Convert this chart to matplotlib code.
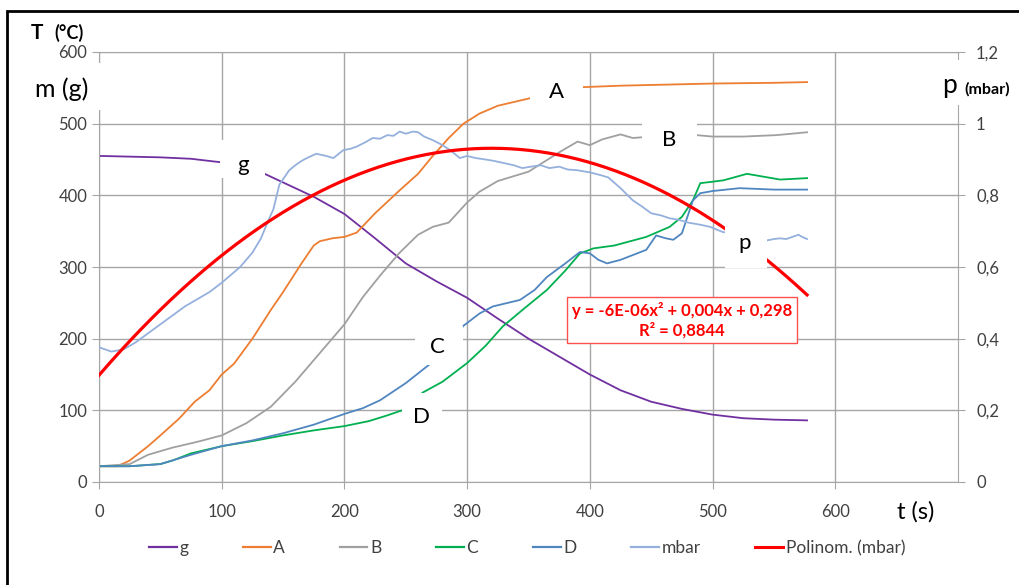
import numpy as np
import matplotlib
matplotlib.use("Agg")
import matplotlib.pyplot as plt
from matplotlib.patches import Rectangle
from matplotlib.lines import Line2D

plt.rcParams["font.family"] = ["Lato", "DejaVu Sans"]

# mass loss g (left axis)
t_g = [0, 25, 50, 75, 100, 120, 135, 150, 175, 200, 225, 250, 275, 300,
       325, 350, 375, 400, 425, 450, 475, 500, 525, 550, 577]
g = [455, 454, 453, 451, 446, 440, 430, 418, 398, 374, 340, 305, 280, 257,
     228, 200, 175, 150, 128, 112, 102, 94, 89, 87, 86]

# thermocouple A..D (left axis, degC)
t_A = [0, 15, 25, 40, 50, 65, 78, 90, 100, 110, 125, 140, 150, 165, 175, 180,
       190, 200, 210, 225, 245, 260, 272, 285, 297, 310, 325, 340, 350, 360,
       380, 395, 425, 450, 500, 550, 577]
A = [22, 22, 30, 50, 65, 88, 112, 128, 150, 165, 200, 240, 265, 305, 330, 336,
     340, 342, 348, 375, 407, 430, 455, 480, 500, 514, 525, 531, 535, 540,
     547, 551, 553, 554, 556, 557, 558]

t_B = [0, 25, 40, 60, 80, 100, 120, 140, 160, 175, 185, 200, 215, 230, 245,
       260, 272, 285, 300, 310, 325, 350, 375, 390, 400, 410, 425, 435, 450,
       465, 487, 500, 525, 552, 577]
B = [22, 25, 38, 48, 56, 65, 82, 105, 140, 170, 190, 220, 258, 290, 320,
     345, 356, 362, 390, 405, 420, 433, 460, 475, 470, 478, 485, 480, 482,
     483, 484, 482, 482, 484, 488]

t_C = [0, 25, 50, 60, 75, 100, 125, 150, 175, 200, 220, 235, 247, 255, 264,
       280, 300, 315, 329, 345, 365, 380, 392, 403, 420, 446, 465, 475, 484,
       490, 500, 509, 528, 545, 555, 577]
C = [22, 22, 25, 30, 40, 50, 57, 65, 72, 78, 85, 93, 100, 112, 125,
     140, 166, 190, 217, 240, 268, 295, 319, 326, 330, 342, 356, 370, 393,
     417, 419, 421, 430, 425, 422, 424]

t_D = [0, 25, 50, 75, 100, 125, 150, 175, 200, 215, 229, 250, 270, 285, 297,
       310, 321, 343, 355, 365, 380, 392, 400, 407, 414, 425, 446, 454, 462,
       468, 475, 484, 490, 500, 522, 550, 577]
D = [22, 22, 25, 38, 50, 58, 68, 80, 95, 103, 114, 138, 165, 190, 218,
     235, 245, 254, 268, 286, 305, 321, 319, 310, 305, 310, 324, 344, 340,
     338, 347, 393, 403, 406, 410, 408, 408]

# pressure (right axis, mbar)
t_p = [0, 5, 10, 20, 30, 50, 70, 90, 100, 115, 125, 132, 138, 142, 147, 155,
       160, 165, 170, 177, 185, 191, 199, 205, 210, 217, 223, 229, 235, 240,
       245, 250, 256, 260, 265, 272, 280, 287, 294, 300, 307, 315, 322, 330,
       338, 345, 352, 360, 367, 375, 382, 390, 400, 407, 415, 425, 435, 442,
       450, 458, 465, 472, 480, 490, 498, 508, 520, 535, 544, 550, 555, 560,
       565, 570, 573, 577]
p = [0.376, 0.370, 0.364, 0.370, 0.390, 0.440, 0.490, 0.530, 0.556, 0.600,
     0.640, 0.680, 0.730, 0.760, 0.830, 0.870, 0.884, 0.896, 0.905, 0.916,
     0.910, 0.904, 0.926, 0.930, 0.936, 0.948, 0.960, 0.958, 0.968, 0.966,
     0.978, 0.972, 0.978, 0.976, 0.964, 0.954, 0.940, 0.924, 0.904, 0.910,
     0.904, 0.900, 0.896, 0.890, 0.884, 0.876, 0.880, 0.884, 0.876, 0.880,
     0.872, 0.870, 0.864, 0.858, 0.850, 0.820, 0.786, 0.770, 0.750, 0.744,
     0.736, 0.732, 0.724, 0.718, 0.712, 0.698, 0.690, 0.680, 0.674, 0.678,
     0.680, 0.678, 0.684, 0.690, 0.684, 0.678]

# quadratic trend of p(t)
poly = [-6.19e-6, 0.00396, 0.298]
r2 = 0.8844

x_ticks = [0, 100, 200, 300, 400, 500, 600]
y_ticks = [0, 100, 200, 300, 400, 500, 600]
p_ticks = [0, 0.2, 0.4, 0.6, 0.8, 1.0, 1.2]

GRID = "#A6A6A6"
TXT = "#404040"

fig = plt.figure(figsize=(10.2, 5.85), dpi=100)
ax = fig.add_axes([99 / 1020, 1 - 482 / 585, 859 / 1020, 430 / 585])
ax2 = ax.twinx()

ax.plot(t_g, g, color="#7030A0", lw=1.3, label="g")
ax.plot(t_A, A, color="#ED7D31", lw=1.3, label="A")
ax.plot(t_B, B, color="#A0A0A0", lw=1.3, label="B")
ax.plot(t_C, C, color="#00B050", lw=1.3, label="C")
ax.plot(t_D, D, color="#4F86C0", lw=1.3, label="D")

ax2.plot(t_p, p, color="#95B0DD", lw=1.3, label="mbar")
tt = np.linspace(0, 577, 300)
ax2.plot(tt, np.polyval(poly, tt), color="#FF0000", lw=2.3, label="Polinom. (mbar)")

ax.set_xlim(0, 700)
ax.set_ylim(0, 600)
ax2.set_ylim(0, 1.2)
ax.set_xticks(x_ticks)
ax.set_yticks(y_ticks)
ax2.set_yticks(p_ticks)
ax2.set_yticklabels([f"{v:g}".replace(".", ",") for v in p_ticks])

ax.grid(True, color=GRID, lw=1)
ax.set_axisbelow(True)
for s in ("left", "bottom", "top"):
    ax.spines[s].set_color(GRID)
ax.spines["right"].set_visible(False)
for s in ("left", "bottom", "top"):
    ax2.spines[s].set_visible(False)
ax2.spines["right"].set_color(GRID)
ax.tick_params(axis="both", length=5, color=GRID, labelcolor=TXT, labelsize=12)
ax.tick_params(axis="x", pad=11)
ax2.tick_params(axis="y", length=5, color=GRID, labelcolor=TXT, labelsize=12, pad=8)

# curve labels on white patches
def tag(text, x, y, x0, x1, y0, y1):
    ax2.add_patch(Rectangle((x0, y0), x1 - x0, y1 - y0, transform=ax.transData,
                            facecolor="white", edgecolor="none", zorder=5, clip_on=False))
    ax2.text(x, y, text, transform=ax.transData, fontsize=16, color="black",
             ha="center", va="center", zorder=6)

tag("g", 117, 443, 98.4, 135.3, 424, 477)
tag("A", 373, 544, 351, 394.5, 519, 568)
tag("B", 465, 477, 442.5, 487.4, 456, 503)
tag("C", 276, 188, 257.5, 296.7, 163, 218)
tag("D", 263, 91, 247, 279.5, 70, 124)
tag("p", 526.5, 333, 510, 544, 298.5, 358.4)

a, b, c = poly
eq = (f"y = {a:.0E}x² + {b:.3f}x + {c:.3f}".replace(".", ",")
      + "\n" + f"R² = {r2:.4f}".replace(".", ","))
ax2.text(475, 226, eq, transform=ax.transData, color="#FF0000", fontsize=12,
         fontweight="bold", ha="center", va="center", linespacing=1.2, zorder=6,
         bbox=dict(boxstyle="square,pad=0.3", facecolor="white",
                   edgecolor="#FF5050", lw=1))

# axis titles
fig.text(31 / 1020, 1 - 33 / 585, "T", fontsize=15, fontweight="bold", va="center")
fig.text(54 / 1020, 1 - 33 / 585, "(°C)", fontsize=13, fontweight="bold", va="center")
fig.text(88 / 1020, 1 - 89 / 585, "m (g)", fontsize=18, ha="right", va="center")
fig.patches.append(Rectangle((95 / 1020, 1 - 110 / 585), 8 / 1020, 47 / 585,
                             transform=fig.transFigure, facecolor="white",
                             edgecolor="none", zorder=10))
fig.patches.append(Rectangle((954 / 1020, 1 - 105 / 585), 8 / 1020, 45 / 585,
                             transform=fig.transFigure, facecolor="white",
                             edgecolor="none", zorder=10))
fig.text(950 / 1020, 1 - 85 / 585, "p", fontsize=19, ha="center", va="center", zorder=11)
fig.text(964 / 1020, 1 - 89 / 585, "(mbar)", fontsize=11.5, fontweight="bold",
         ha="left", va="center", zorder=11)
fig.text(916 / 1020, 1 - 512 / 585, "t (s)", fontsize=17, ha="center", va="center")

handles = [Line2D([], [], color=l.get_color(), lw=2.2 if l.get_color() == "#FF0000" else 1.6)
           for l in ax.lines + ax2.lines]
labels = [l.get_label() for l in ax.lines + ax2.lines]
fig.legend(handles, labels, loc="center", bbox_to_anchor=(527 / 1020, 1 - 548 / 585),
           ncol=7, frameon=False, fontsize=12.5, handlelength=1.6,
           handletextpad=0.15, columnspacing=3.15, labelcolor=TXT)

# outer frame
fig.patches.append(Rectangle((7 / 1020, -0.05), 1.1, 1.05 - 11 / 585,
                             transform=fig.transFigure, fill=False,
                             edgecolor="black", lw=2, clip_on=False))

fig.savefig("out.png", dpi=100)
